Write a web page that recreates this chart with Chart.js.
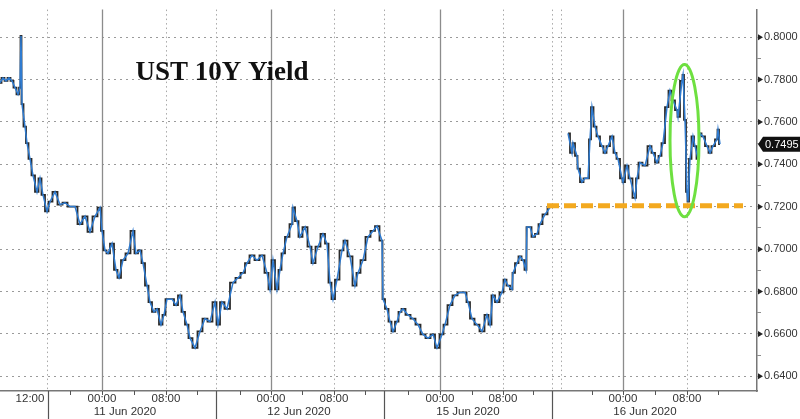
<!DOCTYPE html>
<html>
<head>
<meta charset="utf-8">
<script src="https://cdn.jsdelivr.net/npm/chart.js@4.4.1/dist/chart.umd.min.js"></script>
<style>
  html, body { margin: 0; padding: 0; background: #fff; }
  #wrap { width: 800px; height: 419px; }
</style>
</head>
<body>
<div id="wrap"><canvas id="yieldChart" width="800" height="419"></canvas></div>
<script>
// UST 10Y yield, intraday (x = chart column position, y = yield %)
var seriesX = [
	0, 3, 6, 9, 12, 15, 18, 20, 21, 22, 25, 27, 30, 33, 37, 40, 43, 47, 50, 55,
	60, 65, 70, 75, 80, 85, 90, 95, 100, 102, 105, 108, 112, 116, 119, 123, 128, 133, 136, 140,
	143, 147, 150, 154, 157, 161, 164, 167, 172, 176, 180, 183, 187, 190, 195, 200, 205, 210, 215, 218,
	222, 227, 233, 238, 243, 247, 252, 257, 262, 267, 270, 273, 277, 280, 283, 287, 292, 293, 297, 300,
	305, 310, 313, 318, 323, 327, 330, 333, 337, 342, 345, 350, 355, 358, 363, 368, 373, 377, 382, 383,
	387, 390, 393, 397, 400, 403, 408, 413, 418, 423, 428, 433, 437, 442, 445, 450, 455, 460, 465, 468,
	472, 477, 482, 487, 490, 493, 497, 502, 505, 508, 512, 513, 517, 520, 523, 526, 527, 530, 533, 537,
	540, 545, 550, 558,
	568, 572, 573, 577, 578, 582, 585, 588, 590, 592, 595, 598, 602, 605, 608, 612, 615, 618, 622, 623,
	627, 630, 635, 637, 640, 645, 650, 653, 657, 660, 663, 667, 670, 673, 677, 678, 682, 683, 685, 687,
	688, 690, 693, 695, 698, 700, 703, 707, 710, 713, 717, 718, 720
];
var seriesY = [
	0.7785, 0.7808, 0.7794, 0.7808, 0.7794, 0.7762, 0.7730, 0.7762, 0.8006, 0.7684, 0.7578, 0.7500, 0.7426, 0.7348, 0.7270, 0.7334, 0.7256, 0.7178, 0.7224, 0.7270,
	0.7210, 0.7219, 0.7201, 0.7201, 0.7118, 0.7155, 0.7082, 0.7155, 0.7196, 0.7086, 0.6994, 0.6980, 0.7026, 0.6902, 0.6865, 0.6948, 0.6980, 0.7086, 0.6980, 0.6994,
	0.6934, 0.6828, 0.6750, 0.6704, 0.6718, 0.6644, 0.6690, 0.6764, 0.6764, 0.6736, 0.6782, 0.6704, 0.6644, 0.6580, 0.6534, 0.6612, 0.6672, 0.6658, 0.6750, 0.6644,
	0.6750, 0.6718, 0.6842, 0.6865, 0.6888, 0.6934, 0.6971, 0.6948, 0.6971, 0.6888, 0.6810, 0.6948, 0.6810, 0.6902, 0.6980, 0.7058, 0.7118, 0.7196, 0.7132, 0.7058,
	0.7104, 0.7012, 0.6934, 0.7012, 0.7072, 0.7026, 0.6842, 0.6764, 0.6856, 0.6994, 0.7040, 0.6966, 0.6828, 0.6888, 0.6948, 0.7058, 0.7086, 0.7109, 0.7040, 0.6764,
	0.6718, 0.6658, 0.6612, 0.6658, 0.6704, 0.6718, 0.6690, 0.6672, 0.6644, 0.6598, 0.6580, 0.6598, 0.6534, 0.6598, 0.6644, 0.6736, 0.6782, 0.6796, 0.6796, 0.6750,
	0.6672, 0.6644, 0.6612, 0.6690, 0.6644, 0.6782, 0.6750, 0.6796, 0.6856, 0.6828, 0.6810, 0.6888, 0.6934, 0.6966, 0.6948, 0.6902, 0.7104, 0.7104, 0.7058, 0.7072,
	0.7118, 0.7164, 0.7196, null,
	0.7546, 0.7454, 0.7500, 0.7440, 0.7380, 0.7316, 0.7334, 0.7334, 0.7518, 0.7670, 0.7578, 0.7532, 0.7486, 0.7454, 0.7486, 0.7532, 0.7454, 0.7426, 0.7334, 0.7316,
	0.7394, 0.7334, 0.7242, 0.7334, 0.7408, 0.7394, 0.7486, 0.7454, 0.7408, 0.7440, 0.7500, 0.7670, 0.7748, 0.7702, 0.7656, 0.7624, 0.7794, 0.7822, 0.7610, 0.7270,
	0.7224, 0.7426, 0.7532, 0.7486, 0.7426, 0.7546, 0.7532, 0.7486, 0.7454, 0.7486, 0.7518, 0.7564, 0.7495
];

var lastValue = 0.7495;
var supportLevel = 0.7205;
var supportFrom = 547;
var supportTo = 743;

var yTickValues = [0.64, 0.65, 0.66, 0.67, 0.68, 0.69, 0.70, 0.71, 0.72, 0.73, 0.74, 0.75, 0.76, 0.77, 0.78, 0.79, 0.80];

// bottom axis
var hourTickPos = [30, 102, 166, 271, 334, 440, 503, 623, 687];
var hourTickLabels = ['12:00', '00:00', '08:00', '00:00', '08:00', '00:00', '08:00', '00:00', '08:00'];
var dayLabelPos = [125, 299, 468, 645];
var dayLabels = ['11 Jun 2020', '12 Jun 2020', '15 Jun 2020', '16 Jun 2020'];
var sessionBreaks = [48, 216, 384, 552];
var minorTickPos = [70, 134, 197, 240, 302, 365, 408, 472, 533, 592, 655, 718];
var midnightLines = [102, 271, 440, 623];
var dottedLines = [47, 166, 216, 334, 384, 503, 552, 561, 687];

var titleText = 'UST 10Y Yield';

var seriesData = seriesX.map(function(x, i) {
	return { x: x, y: seriesY[i] };
});

var axisFamily = '"Liberation Sans", Arial, sans-serif';

// extra drawing: session lines, bottom labels, title, highlight ellipse, last price tag
var decorations = {
	id: 'decorations',
	beforeDatasetsDraw: function(chart) {
		var ctx = chart.ctx;
		var xs = chart.scales.x;
		var area = chart.chartArea;
		ctx.save();
		ctx.lineWidth = 1;
		ctx.strokeStyle = '#a8a8a8';
		ctx.setLineDash([1.5, 3]);
		dottedLines.forEach(function(v) {
			var px = Math.round(xs.getPixelForValue(v)) + 0.5;
			ctx.beginPath();
			ctx.moveTo(px, area.top);
			ctx.lineTo(px, area.bottom);
			ctx.stroke();
		});
		ctx.setLineDash([]);
		ctx.strokeStyle = '#8c8c8c';
		ctx.lineWidth = 1.3;
		midnightLines.forEach(function(v) {
			var px = Math.round(xs.getPixelForValue(v)) + 0.5;
			ctx.beginPath();
			ctx.moveTo(px, area.top);
			ctx.lineTo(px, area.bottom);
			ctx.stroke();
		});
		ctx.restore();
	},
	afterDraw: function(chart) {
		var ctx = chart.ctx;
		var xs = chart.scales.x;
		var ys = chart.scales.y;
		var area = chart.chartArea;
		ctx.save();

		// bottom axis ticks and separators
		ctx.strokeStyle = '#555';
		ctx.lineWidth = 1;
		minorTickPos.concat(hourTickPos.slice(1)).forEach(function(v) {
			var px = Math.round(xs.getPixelForValue(v)) + 0.5;
			ctx.beginPath();
			ctx.moveTo(px, area.bottom);
			ctx.lineTo(px, area.bottom + 4);
			ctx.stroke();
		});
		ctx.lineWidth = 1.2;
		sessionBreaks.forEach(function(v) {
			var px = Math.round(xs.getPixelForValue(v)) + 0.5;
			ctx.beginPath();
			ctx.moveTo(px, area.bottom);
			ctx.lineTo(px, chart.height);
			ctx.stroke();
		});

		ctx.fillStyle = '#333';
		ctx.font = '11.5px ' + axisFamily;
		ctx.textAlign = 'center';
		ctx.textBaseline = 'middle';
		hourTickPos.forEach(function(v, i) {
			ctx.fillText(hourTickLabels[i], xs.getPixelForValue(v), area.bottom + 8);
		});
		dayLabelPos.forEach(function(v, i) {
			ctx.fillText(dayLabels[i], xs.getPixelForValue(v), area.bottom + 21);
		});

		// arrow markers on the value axis
		ctx.fillStyle = '#222';
		yTickValues.forEach(function(v, i) {
			if (i % 2) return;
			var py = ys.getPixelForValue(v);
			ctx.beginPath();
			ctx.moveTo(area.right + 1, py - 3);
			ctx.lineTo(area.right + 6, py);
			ctx.lineTo(area.right + 1, py + 3);
			ctx.closePath();
			ctx.fill();
		});

		// last value tag
		var ty = ys.getPixelForValue(lastValue);
		ctx.fillStyle = '#111';
		ctx.beginPath();
		ctx.moveTo(area.right + 1, ty);
		ctx.lineTo(area.right + 6, ty - 7.5);
		ctx.lineTo(chart.width, ty - 7.5);
		ctx.lineTo(chart.width, ty + 7.5);
		ctx.lineTo(area.right + 6, ty + 7.5);
		ctx.closePath();
		ctx.fill();
		ctx.fillStyle = '#fff';
		ctx.font = '11px ' + axisFamily;
		ctx.textAlign = 'left';
		ctx.fillText(lastValue.toFixed(4), area.right + 8, ty + 0.5);

		// title
		ctx.fillStyle = '#111';
		ctx.font = 'bold 27px "Liberation Serif", "Times New Roman", serif';
		ctx.textAlign = 'center';
		ctx.textBaseline = 'alphabetic';
		ctx.fillText(titleText, xs.getPixelForValue(222), ys.getPixelForValue(0.7798));

		// highlight ellipse round the spike
		var cx = xs.getPixelForValue(684.5);
		var cy = ys.getPixelForValue(0.7512);
		var ry = Math.abs(ys.getPixelForValue(0.7512 - 0.0359) - cy);
		var rx = Math.abs(xs.getPixelForValue(684.5 + 14.5) - cx);
		ctx.strokeStyle = '#6ee040';
		ctx.lineWidth = 3;
		ctx.beginPath();
		ctx.ellipse(cx, cy, rx, ry, 0, 0, Math.PI * 2);
		ctx.stroke();

		ctx.restore();
	}
};

var ctx = document.getElementById('yieldChart').getContext('2d');

new Chart(ctx, {
	type: 'line',
	data: {
		datasets: [{
			label: 'UST 10Y bars',
			data: seriesData,
			borderColor: '#2a2a2a',
			borderWidth: 1.8,
			stepped: 'middle',
			pointRadius: 0,
			spanGaps: false,
			order: 3
		}, {
			label: 'UST 10Y',
			data: seriesData,
			borderColor: '#2f7bd0',
			borderWidth: 1.5,
			pointRadius: 0,
			tension: 0,
			spanGaps: false,
			order: 2
		}, {
			label: 'Support',
			data: [
				{ x: supportFrom, y: supportLevel },
				{ x: supportTo, y: supportLevel }
			],
			borderColor: '#f3a91f',
			borderWidth: 5,
			borderDash: [12, 5],
			pointRadius: 0,
			order: 1
		}]
	},
	options: {
		responsive: false,
		animation: false,
		layout: { padding: 0 },
		plugins: {
			legend: { display: false },
			title: { display: false },
			tooltip: { enabled: false }
		},
		scales: {
			x: {
				type: 'linear',
				min: 0,
				max: 757,
				ticks: { display: false },
				grid: { display: false, drawTicks: false },
				border: { display: true, color: '#777', width: 1.5 },
				afterFit: function(scale) {
					scale.height = 28;
				}
			},
			y: {
				position: 'right',
				min: 0.6331,
				max: 0.8130,
				afterBuildTicks: function(scale) {
					scale.ticks = yTickValues.map(function(v) {
						return { value: v };
					});
				},
				afterFit: function(scale) {
					scale.width = 43;
				},
				ticks: {
					padding: 3,
					color: '#333',
					font: { family: axisFamily, size: 11 },
					callback: function(value, index) {
						return index % 2 ? '' : Number(value).toFixed(4);
					}
				},
				grid: {
					color: function(c) {
						return c.index % 2 ? 'rgba(0,0,0,0)' : '#9a9a9a';
					},
					tickColor: '#666',
					tickLength: 4,
					tickBorderDash: [1, 0],
					drawTicks: true
				},
				border: { display: true, color: '#777', width: 1.5, dash: [2, 4] }
			}
		}
	},
	plugins: [decorations]
});
</script>
</body>
</html>
